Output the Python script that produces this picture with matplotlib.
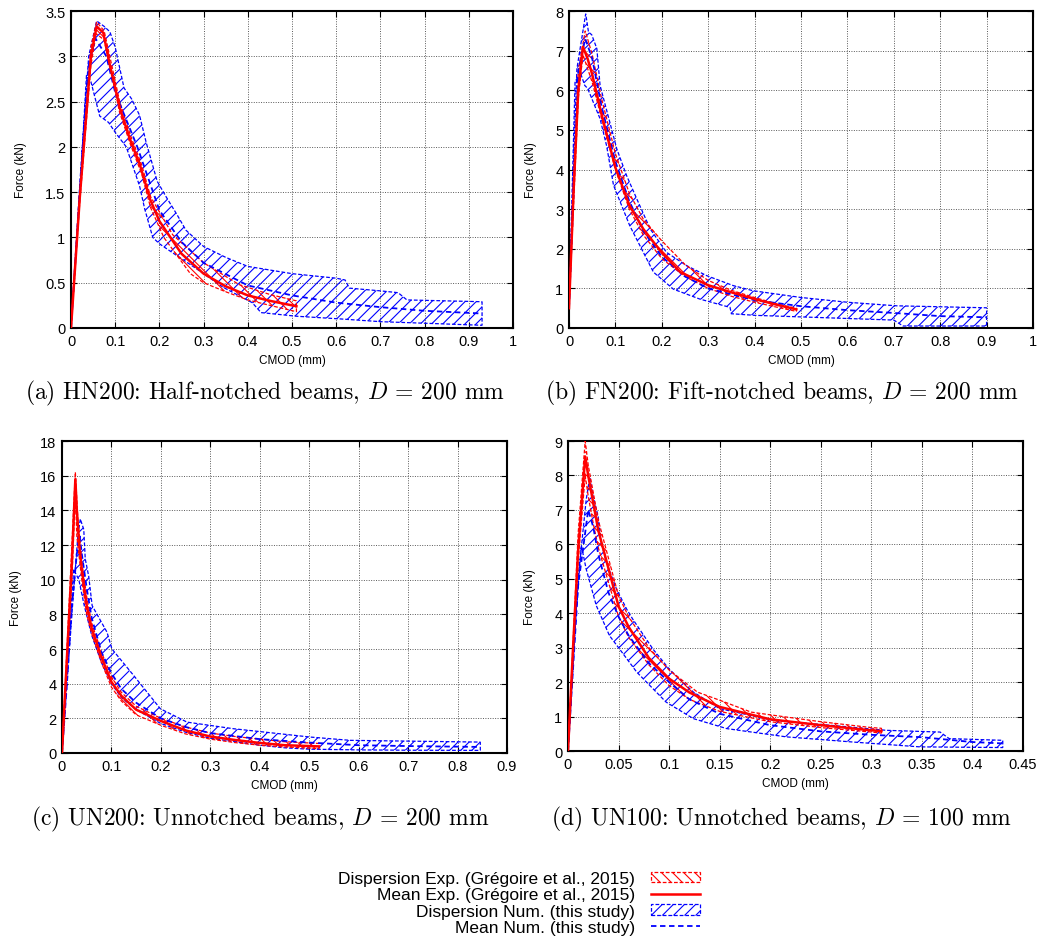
import numpy as np
import matplotlib
matplotlib.use("Agg")
import matplotlib.pyplot as plt
from matplotlib.patches import Patch
from matplotlib.lines import Line2D

plt.rcParams['font.family'] = ['Liberation Sans', 'DejaVu Sans']
plt.rcParams['mathtext.fontset'] = 'cm'
plt.rcParams['hatch.linewidth'] = 0.8

# ---------------- (a) HN200 ----------------
hn_num_up_x = [0, 0.02, 0.04, 0.058, 0.075, 0.088, 0.1, 0.12, 0.137, 0.155, 0.17, 0.195, 0.215, 0.24, 0.26, 0.3, 0.35, 0.4, 0.5, 0.6, 0.62, 0.63, 0.7, 0.74, 0.76, 0.93]
hn_num_up_y = [0, 1.6, 3.0, 3.39, 3.33, 3.27, 3.1, 2.65, 2.53, 2.35, 2.05, 1.62, 1.45, 1.25, 1.08, 0.9, 0.78, 0.68, 0.6, 0.55, 0.53, 0.44, 0.41, 0.39, 0.31, 0.29]
hn_num_lo_x = [0, 0.02, 0.035, 0.045, 0.065, 0.085, 0.1, 0.125, 0.155, 0.167, 0.185, 0.2, 0.224, 0.27, 0.3, 0.344, 0.41, 0.43, 0.51, 0.61, 0.7, 0.93]
hn_num_lo_y = [0, 1.5, 2.79, 2.72, 2.34, 2.27, 2.16, 2.0, 1.57, 1.31, 1.0, 0.93, 0.85, 0.7, 0.6, 0.45, 0.28, 0.17, 0.13, 0.1, 0.07, 0.03]
hn_num_mean_x = [0, 0.02, 0.04, 0.055, 0.08, 0.1, 0.15, 0.2, 0.25, 0.3, 0.4, 0.5, 0.6, 0.7, 0.8, 0.93]
hn_num_mean_y = [0, 1.5, 2.9, 3.2, 3.0, 2.6, 2.0, 1.3, 0.95, 0.72, 0.47, 0.36, 0.28, 0.23, 0.19, 0.16]
hn_exp_up_x = [0, 0.02, 0.045, 0.058, 0.075, 0.09, 0.11, 0.135, 0.16, 0.18, 0.23, 0.3, 0.38, 0.45, 0.51]
hn_exp_up_y = [0, 1.5, 3.1, 3.38, 3.28, 2.95, 2.5, 2.12, 1.8, 1.45, 1.03, 0.72, 0.48, 0.37, 0.3]
hn_exp_lo_x = [0, 0.02, 0.045, 0.057, 0.075, 0.09, 0.11, 0.135, 0.16, 0.18, 0.21, 0.24, 0.27, 0.3, 0.35, 0.4, 0.45, 0.51]
hn_exp_lo_y = [0, 1.4, 2.9, 3.25, 3.18, 2.85, 2.38, 2.02, 1.7, 1.33, 1.0, 0.8, 0.6, 0.5, 0.4, 0.31, 0.25, 0.18]
hn_exp_mean_x = [0, 0.02, 0.045, 0.058, 0.073, 0.088, 0.111, 0.133, 0.156, 0.179, 0.2, 0.25, 0.3, 0.35, 0.4, 0.45, 0.51]
hn_exp_mean_y = [0, 1.45, 3.0, 3.33, 3.26, 2.9, 2.42, 2.09, 1.8, 1.42, 1.18, 0.82, 0.6, 0.46, 0.36, 0.3, 0.24]

# ---------------- (b) FN200 ----------------
fn_num_up_x = [0, 0.017, 0.036, 0.042, 0.049, 0.06, 0.067, 0.088, 0.103, 0.124, 0.146, 0.175, 0.21, 0.254, 0.297, 0.354, 0.397, 0.5, 0.6, 0.706, 0.9]
fn_num_up_y = [0.5, 6.54, 7.93, 7.47, 7.4, 7.05, 6.12, 5.19, 4.52, 3.85, 3.26, 2.5, 1.91, 1.57, 1.32, 1.07, 0.94, 0.77, 0.65, 0.56, 0.51]
fn_num_lo_x = [0, 0.013, 0.024, 0.034, 0.04, 0.067, 0.081, 0.096, 0.131, 0.182, 0.225, 0.282, 0.347, 0.35, 0.4, 0.5, 0.6, 0.7, 0.72, 0.9]
fn_num_lo_y = [0.5, 6.2, 6.46, 6.12, 6.05, 5.28, 4.6, 3.6, 2.58, 1.41, 0.98, 0.73, 0.52, 0.36, 0.32, 0.28, 0.24, 0.2, 0.05, 0.05]
fn_num_mean_x = [0, 0.02, 0.035, 0.05, 0.07, 0.1, 0.13, 0.16, 0.2, 0.25, 0.3, 0.4, 0.5, 0.6, 0.7, 0.8, 0.9]
fn_num_mean_y = [0.5, 6.5, 7.3, 6.8, 5.6, 4.2, 3.2, 2.45, 1.8, 1.3, 1.0, 0.7, 0.55, 0.45, 0.38, 0.3, 0.27]
fn_exp_up_x = [0, 0.02, 0.035, 0.05, 0.07, 0.1, 0.13, 0.16, 0.2, 0.25, 0.3, 0.35, 0.4, 0.45, 0.49]
fn_exp_up_y = [0.5, 6.5, 7.5, 6.9, 5.8, 4.4, 3.4, 2.75, 2.2, 1.6, 1.2, 0.95, 0.77, 0.6, 0.5]
fn_exp_lo_x = [0, 0.02, 0.03, 0.05, 0.07, 0.1, 0.13, 0.16, 0.2, 0.25, 0.3, 0.35, 0.4, 0.45, 0.49]
fn_exp_lo_y = [0.5, 5.8, 6.9, 6.2, 5.3, 4.0, 3.0, 2.35, 1.75, 1.3, 1.0, 0.8, 0.65, 0.52, 0.42]
fn_exp_mean_x = [0, 0.01, 0.02, 0.03, 0.04, 0.05, 0.07, 0.1, 0.13, 0.16, 0.2, 0.24, 0.3, 0.35, 0.4, 0.45, 0.49]
fn_exp_mean_y = [0.5, 3.5, 6.0, 7.1, 6.8, 6.4, 5.4, 4.05, 3.1, 2.5, 1.9, 1.41, 1.08, 0.9, 0.73, 0.58, 0.47]

# ---------------- (c) UN200 ----------------
un2_num_up_x = [0, 0.02, 0.032, 0.037, 0.044, 0.047, 0.054, 0.061, 0.091, 0.101, 0.145, 0.172, 0.199, 0.253, 0.347, 0.502, 0.583, 0.846]
un2_num_up_y = [0, 8.0, 12.5, 13.5, 12.9, 11.2, 10.2, 8.5, 6.97, 6.0, 4.47, 3.51, 2.55, 1.78, 1.4, 0.92, 0.73, 0.63]
un2_num_lo_x = [0, 0.015, 0.0235, 0.034, 0.045, 0.06, 0.08, 0.1, 0.12, 0.15, 0.2, 0.25, 0.3, 0.4, 0.45, 0.5, 0.6, 0.7, 0.846]
un2_num_lo_y = [0, 7.0, 10.6, 10.0, 8.5, 6.8, 5.2, 4.0, 3.2, 2.5, 1.7, 1.2, 0.85, 0.45, 0.3, 0.22, 0.18, 0.16, 0.15]
un2_num_mean_x = [0, 0.01, 0.02, 0.03, 0.036, 0.04, 0.05, 0.06, 0.08, 0.1, 0.12, 0.15, 0.2, 0.25, 0.3, 0.4, 0.5, 0.6, 0.7, 0.846]
un2_num_mean_y = [0, 4.0, 8.5, 11.5, 12.5, 11.5, 9.5, 7.8, 5.8, 4.6, 3.7, 2.9, 2.0, 1.5, 1.15, 0.8, 0.6, 0.45, 0.4, 0.35]
un2_exp_up_x = [0, 0.01, 0.02, 0.027, 0.032, 0.04, 0.05, 0.06, 0.08, 0.1, 0.12, 0.15, 0.2, 0.25, 0.3, 0.35, 0.4, 0.45, 0.52]
un2_exp_up_y = [0, 6.0, 12.0, 16.2, 13.5, 11.0, 9.0, 7.5, 5.8, 4.4, 3.5, 2.7, 2.0, 1.5, 1.15, 0.95, 0.8, 0.65, 0.55]
un2_exp_lo_x = [0, 0.01, 0.02, 0.027, 0.03, 0.04, 0.05, 0.06, 0.08, 0.1, 0.12, 0.15, 0.2, 0.25, 0.3, 0.35, 0.4, 0.45, 0.52]
un2_exp_lo_y = [0, 5.0, 10.0, 15.0, 12.5, 10.0, 8.0, 6.9, 5.2, 3.8, 3.0, 2.2, 1.6, 1.1, 0.8, 0.6, 0.45, 0.35, 0.25]
un2_exp_mean_x = [0, 0.01, 0.02, 0.027, 0.03, 0.035, 0.04, 0.05, 0.06, 0.08, 0.1, 0.12, 0.15, 0.2, 0.25, 0.3, 0.35, 0.4, 0.45, 0.52]
un2_exp_mean_y = [0, 5.5, 11.0, 15.8, 14.0, 12.0, 10.6, 8.5, 7.2, 5.5, 4.1, 3.3, 2.5, 1.85, 1.3, 0.95, 0.75, 0.58, 0.45, 0.38]

# ---------------- (d) UN100 ----------------
un1_num_up_x = [0, 0.01, 0.018, 0.0215, 0.0247, 0.0297, 0.033, 0.038, 0.048, 0.058, 0.064, 0.084, 0.1, 0.124, 0.15, 0.203, 0.262, 0.315, 0.368, 0.377, 0.43]
un1_num_up_y = [0, 5.0, 7.3, 7.95, 7.4, 6.83, 6.05, 5.47, 4.7, 4.12, 3.83, 2.96, 2.38, 1.71, 1.23, 0.89, 0.74, 0.6, 0.55, 0.36, 0.31]
un1_num_lo_x = [0, 0.008, 0.0132, 0.018, 0.028, 0.041, 0.051, 0.068, 0.097, 0.124, 0.157, 0.216, 0.282, 0.348, 0.43]
un1_num_lo_y = [0, 4.0, 5.96, 5.28, 4.22, 3.35, 2.96, 2.29, 1.42, 0.94, 0.65, 0.41, 0.26, 0.12, 0.1]
un1_num_mean_x = [0, 0.01, 0.02, 0.025, 0.03, 0.04, 0.05, 0.06, 0.08, 0.1, 0.12, 0.15, 0.2, 0.25, 0.3, 0.35, 0.4, 0.43]
un1_num_mean_y = [0, 4.8, 7.0, 6.5, 5.7, 4.6, 3.9, 3.35, 2.55, 2.0, 1.5, 1.08, 0.75, 0.57, 0.47, 0.4, 0.26, 0.22]
un1_exp_up_x = [0, 0.01, 0.017, 0.02, 0.025, 0.03, 0.04, 0.05, 0.06, 0.08, 0.1, 0.128, 0.155, 0.181, 0.2, 0.25, 0.3, 0.31]
un1_exp_up_y = [0, 6.3, 9.0, 8.3, 7.5, 6.7, 5.6, 4.5, 3.9, 3.0, 2.35, 1.71, 1.42, 1.13, 1.05, 0.85, 0.68, 0.66]
un1_exp_lo_x = [0, 0.01, 0.017, 0.02, 0.025, 0.03, 0.04, 0.05, 0.06, 0.08, 0.1, 0.12, 0.15, 0.2, 0.25, 0.3, 0.31]
un1_exp_lo_y = [0, 5.5, 8.0, 7.4, 6.6, 5.9, 4.9, 3.9, 3.3, 2.5, 1.9, 1.5, 1.15, 0.85, 0.68, 0.55, 0.52]
un1_exp_mean_x = [0, 0.005, 0.01, 0.017, 0.02, 0.025, 0.03, 0.04, 0.05, 0.06, 0.08, 0.1, 0.12, 0.15, 0.2, 0.25, 0.3, 0.31]
un1_exp_mean_y = [0, 3.0, 5.8, 8.55, 8.0, 7.2, 6.4, 5.3, 4.2, 3.6, 2.7, 2.1, 1.7, 1.28, 0.92, 0.75, 0.6, 0.58]

captions = [
    "(a) HN200: Half-notched beams, $D$ = 200 mm",
    "(b) FN200: Fift-notched beams, $D$ = 200 mm",
    "(c) UN200: Unnotched beams, $D$ = 200 mm",
    "(d) UN100: Unnotched beams, $D$ = 100 mm",
]
caption_xy = [(265, 393), (782, 393), (260, 819), (782, 819)]

W, H = 1043, 945
fig = plt.figure(figsize=(W / 100, H / 100), dpi=100)


def add_ax(left, top, right, bottom):
    return fig.add_axes([left / W, 1 - bottom / H, (right - left) / W, (bottom - top) / H])


def band(ax, upx, upy, lox, loy, color, hatch, z):
    px = np.concatenate([upx, lox[::-1]])
    py = np.concatenate([upy, loy[::-1]])
    ax.fill(px, py, facecolor='none', edgecolor=color, hatch=hatch,
            linewidth=0.9, linestyle=(0, (3, 1.5)), zorder=z)


panels = [
    (add_ax(71, 12, 513, 329), (1.0, 3.5), np.arange(0, 1.01, 0.1), np.arange(0, 3.51, 0.5),
     hn_num_up_x, hn_num_up_y, hn_num_lo_x, hn_num_lo_y, hn_num_mean_x, hn_num_mean_y,
     hn_exp_up_x, hn_exp_up_y, hn_exp_lo_x, hn_exp_lo_y, hn_exp_mean_x, hn_exp_mean_y),
    (add_ax(569, 12, 1033, 329), (1.0, 8), np.arange(0, 1.01, 0.1), np.arange(0, 8.1, 1),
     fn_num_up_x, fn_num_up_y, fn_num_lo_x, fn_num_lo_y, fn_num_mean_x, fn_num_mean_y,
     fn_exp_up_x, fn_exp_up_y, fn_exp_lo_x, fn_exp_lo_y, fn_exp_mean_x, fn_exp_mean_y),
    (add_ax(62, 442, 507, 754), (0.9, 18), np.arange(0, 0.91, 0.1), np.arange(0, 18.1, 2),
     un2_num_up_x, un2_num_up_y, un2_num_lo_x, un2_num_lo_y, un2_num_mean_x, un2_num_mean_y,
     un2_exp_up_x, un2_exp_up_y, un2_exp_lo_x, un2_exp_lo_y, un2_exp_mean_x, un2_exp_mean_y),
    (add_ax(568, 442, 1023, 752), (0.45, 9), np.arange(0, 0.451, 0.05), np.arange(0, 9.1, 1),
     un1_num_up_x, un1_num_up_y, un1_num_lo_x, un1_num_lo_y, un1_num_mean_x, un1_num_mean_y,
     un1_exp_up_x, un1_exp_up_y, un1_exp_lo_x, un1_exp_lo_y, un1_exp_mean_x, un1_exp_mean_y),
]

for i, p in enumerate(panels):
    ax, (xmax, ymax), xt, yt = p[0], p[1], p[2], p[3]
    nux, nuy, nlx, nly, nmx, nmy, eux, euy, elx, ely, emx, emy = [np.array(a) for a in p[4:]]
    band(ax, nux, nuy, nlx, nly, 'blue', '///', 2)
    band(ax, eux, euy, elx, ely, 'red', '\\\\\\', 3)
    ax.plot(nmx, nmy, color='blue', linewidth=1.3, linestyle=(0, (3, 2)), zorder=4)
    ax.plot(emx, emy, color='red', linewidth=1.8, zorder=5)

    ax.set_xlim(0, xmax)
    ax.set_ylim(0, ymax)
    ax.set_xticks(xt)
    ax.set_yticks(yt)
    ax.set_xticklabels(['%g' % v for v in np.round(xt, 2)])
    ax.set_yticklabels(['%g' % v for v in np.round(yt, 2)])
    ax.tick_params(direction='in', top=True, right=True, length=4, width=0.8,
                   labelsize=10.5, pad=4)
    ax.grid(True, color='0.35', linestyle=(0, (1, 1.5)), linewidth=0.7)
    ax.set_axisbelow(True)
    for s in ax.spines.values():
        s.set_linewidth(1.5)
    ax.set_xlabel('CMOD (mm)', fontsize=8.5, labelpad=5)
    ax.set_ylabel('Force (kN)', fontsize=8.5, labelpad=13)

    cx, cy = caption_xy[i]
    fig.text(cx / W, 1 - cy / H, captions[i], ha='center', va='center',
             fontsize=17, family='cmr10')

handles = [
    Patch(facecolor='none', edgecolor='red', hatch='\\\\\\', linestyle=(0, (3, 1.5)), linewidth=0.9),
    Line2D([], [], color='red', linewidth=1.8),
    Patch(facecolor='none', edgecolor='blue', hatch='///', linestyle=(0, (3, 1.5)), linewidth=0.9),
    Line2D([], [], color='blue', linewidth=1.3, linestyle=(0, (3, 2))),
]
labels = [
    'Dispersion Exp. (Grégoire et al., 2015)',
    'Mean Exp. (Grégoire et al., 2015)',
    'Dispersion Num. (this study)',
    'Mean Num. (this study)',
]
fig.legend(handles, labels, loc='center', bbox_to_anchor=(519 / W, 1 - 904 / H),
           frameon=False, markerfirst=False, fontsize=12.5, handlelength=2.8,
           handleheight=0.55, labelspacing=0.08, handletextpad=0.9, borderpad=0)

fig.savefig('out.png', dpi=100)
